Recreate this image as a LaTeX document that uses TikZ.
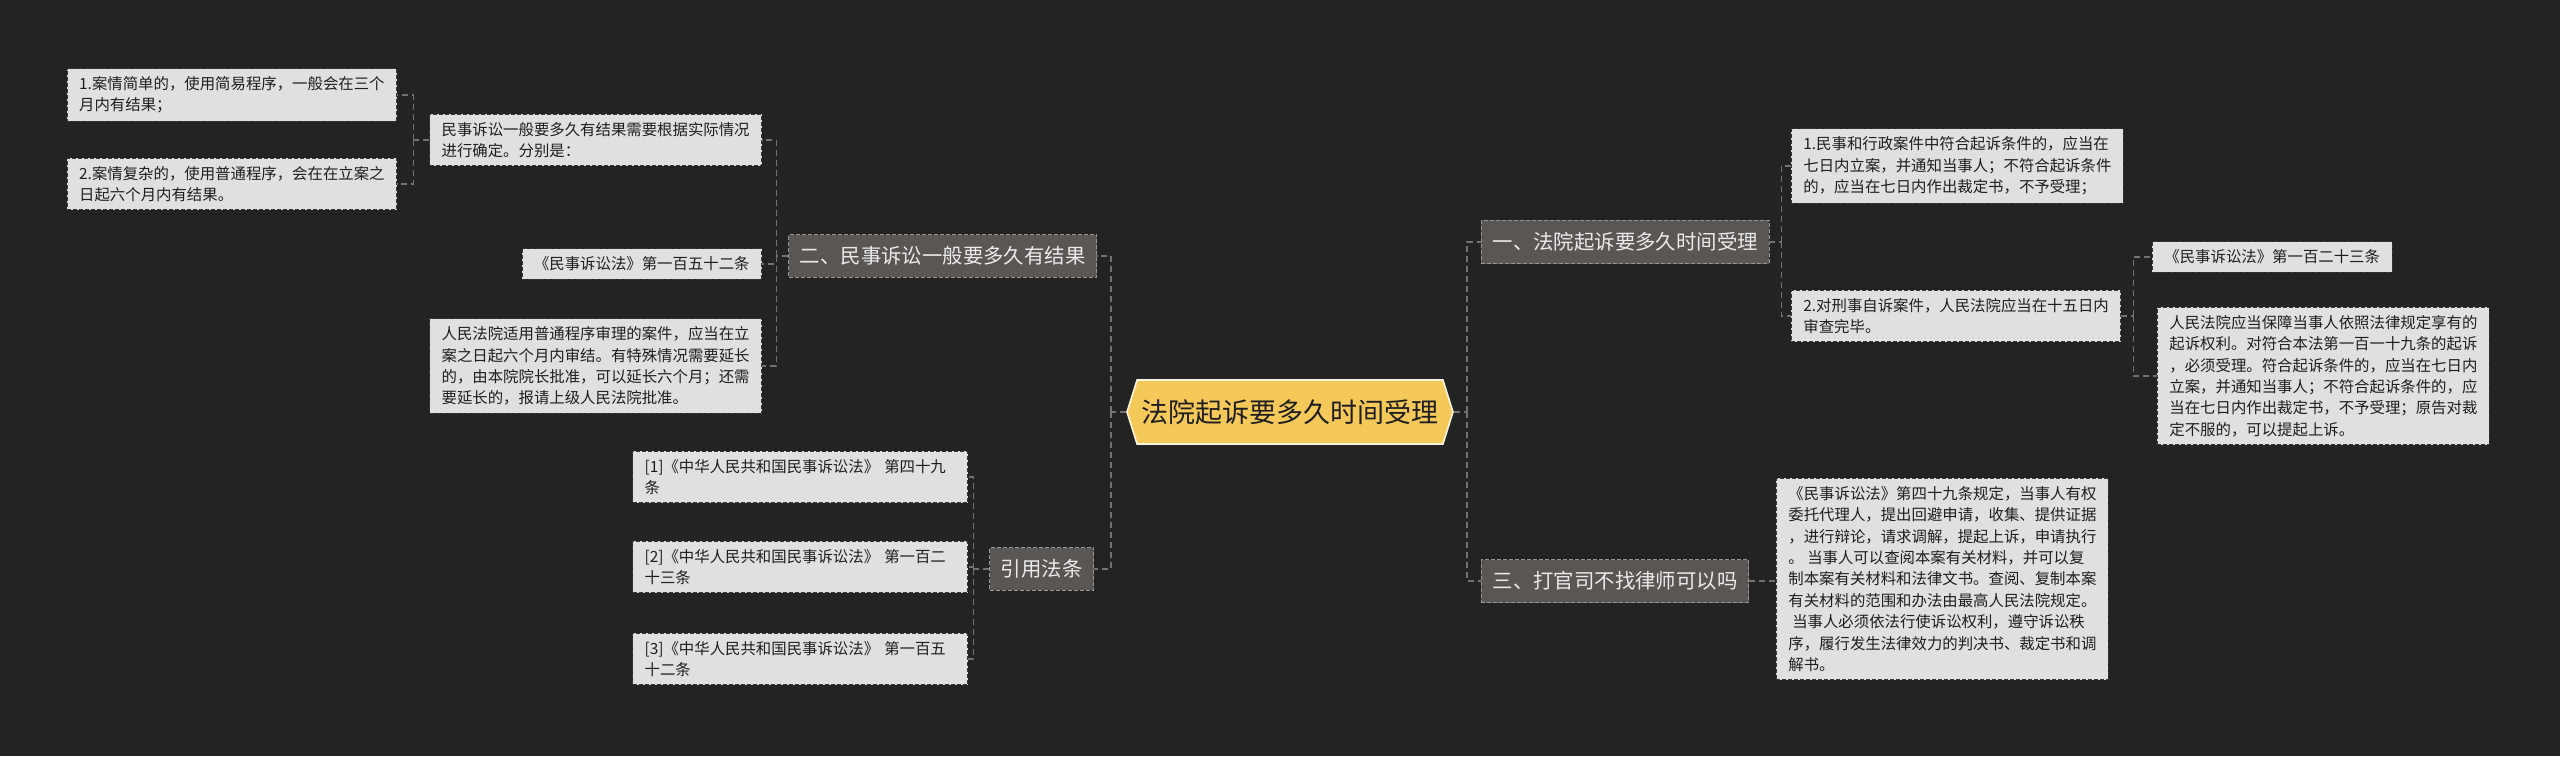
\documentclass[tikz,border=0pt]{standalone}
\usepackage{fontspec}
\setmainfont{Noto Sans CJK SC}
\usetikzlibrary{shapes.symbols,positioning}
\definecolor{bgdark}{RGB}{35,35,35}
\definecolor{leafgray}{RGB}{224,224,224}
\definecolor{leafedge}{RGB}{55,55,55}
\definecolor{branchgray}{RGB}{90,86,84}
\definecolor{branchedge}{RGB}{150,150,150}
\definecolor{rootyellow}{RGB}{245,200,90}
\definecolor{linkgray}{RGB}{115,115,115}
\definecolor{inkdark}{RGB}{30,30,30}

\begin{document}
\begin{tikzpicture}[x=0.5pt, y=-0.5pt,
  leaf/.style={draw=leafedge, dash pattern=on 2pt off 1pt, fill=leafgray,
               text=inkdark, align=left, inner xsep=6pt, inner ysep=4pt,
               font=\fontsize{7.7}{10.7}\selectfont},
  citeleaf/.style={leaf, text width=155.5pt},
  branch/.style={draw=branchedge, dash pattern=on 2pt off 1pt, fill=branchgray,
                 text=white!92!black, inner xsep=5.6pt, inner ysep=6pt,
                 font=\fontsize{10.2}{12}\selectfont},
  link/.style={draw=linkgray, line width=0.7pt, dash pattern=on 3pt off 2pt},
  ]

% background and picture size (pixels of the 2560x756 image)
\fill[bgdark] (0,0) rectangle (2560,756);
\useasboundingbox (0,0) rectangle (2560,756);

% ======================================================================
% Root
% ======================================================================
\node[shape=signal, signal to=east and west, signal pointer angle=145,
      fill=rootyellow, draw=white!80!rootyellow, line width=0.8pt,
      minimum width=163pt, minimum height=32pt, inner sep=0pt,
      text=inkdark, font=\fontsize{13.5}{15}\selectfont]
  (root) at (1290,412) {法院起诉要多久时间受理};

% ======================================================================
% Left side: branch two and cited articles
% ======================================================================
\node[branch, anchor=east] (branchTwo) at (1097,256) {二、民事诉讼一般要多久有结果};
\node[branch, anchor=east] (citeBranch) at (1094,569) {引用法条};

\node[leaf, anchor=east] (twoIntro) at (762,140)
  {民事诉讼一般要多久有结果需要根据实际情况\\进行确定。分别是：};
\node[leaf, anchor=east] (twoEasy) at (397,95)
  {1.案情简单的，使用简易程序，一般会在三个\\月内有结果；};
\node[leaf, anchor=east] (twoHard) at (397,184)
  {2.案情复杂的，使用普通程序，会在在立案之\\日起六个月内有结果。};
\node[leaf, anchor=east] (twoArticle) at (762,264)
  {《民事诉讼法》第一百五十二条};
\node[leaf, anchor=east] (twoRule) at (762,366)
  {人民法院适用普通程序审理的案件，应当在立\\案之日起六个月内审结。有特殊情况需要延长\\的，由本院院长批准，可以延长六个月；还需\\要延长的，报请上级人民法院批准。};

\node[citeleaf, anchor=east] (cite1) at (968,477)
  {[1]《中华人民共和国民事诉讼法》 第四十九\\条};
\node[citeleaf, anchor=east] (cite2) at (968,567)
  {[2]《中华人民共和国民事诉讼法》 第一百二\\十三条};
\node[citeleaf, anchor=east] (cite3) at (968,659)
  {[3]《中华人民共和国民事诉讼法》 第一百五\\十二条};

% ======================================================================
% Right side: branches one and three
% ======================================================================
\node[branch, anchor=west] (branchOne) at (1481,242) {一、法院起诉要多久时间受理};
\node[branch, anchor=west] (branchThree) at (1481,581) {三、打官司不找律师可以吗};

\node[leaf, anchor=west] (oneCivil) at (1791,166)
  {1.民事和行政案件中符合起诉条件的，应当在\\七日内立案，并通知当事人；不符合起诉条件\\的，应当在七日内作出裁定书，不予受理；};
\node[leaf, anchor=west] (oneCriminal) at (1791,316)
  {2.对刑事自诉案件，人民法院应当在十五日内\\审查完毕。};
\node[leaf, anchor=west] (oneArticle) at (2152,257)
  {《民事诉讼法》第一百二十三条};
\node[leaf, anchor=west] (oneRule) at (2157,376)
  {人民法院应当保障当事人依照法律规定享有的\\起诉权利。对符合本法第一百一十九条的起诉\\，必须受理。符合起诉条件的，应当在七日内\\立案，并通知当事人；不符合起诉条件的，应\\当在七日内作出裁定书，不予受理；原告对裁\\定不服的，可以提起上诉。};

\node[leaf, anchor=west] (threeRule) at (1776,579)
  {《民事诉讼法》第四十九条规定，当事人有权\\委托代理人，提出回避申请，收集、提供证据\\，进行辩论，请求调解，提起上诉，申请执行\\。 当事人可以查阅本案有关材料，并可以复\\制本案有关材料和法律文书。查阅、复制本案\\有关材料的范围和办法由最高人民法院规定。\\\hspace*{0.25em}当事人必须依法行使诉讼权利，遵守诉讼秩\\序，履行发生法律效力的判决书、裁定书和调\\解书。};

% ======================================================================
% Connectors
% ======================================================================
\draw[link] (root.west) -- ++(-15,0) coordinate (rootL);
\foreach \b in {branchTwo, citeBranch}
  \draw[link] (rootL) |- (\b.east);

\draw[link] (root.east) -- ++(13,0) coordinate (rootR);
\foreach \b in {branchOne, branchThree}
  \draw[link] (rootR) |- (\b.west);

\draw[link] (branchTwo.west) -- ++(-12,0) coordinate (twoL);
\foreach \c in {twoIntro, twoArticle, twoRule}
  \draw[link] (twoL) |- (\c.east);

\draw[link] (twoIntro.west) -- ++(-16,0) coordinate (introL);
\foreach \c in {twoEasy, twoHard}
  \draw[link] (introL) |- (\c.east);

\draw[link] (citeBranch.west) -- ++(-16,0) coordinate (citeL);
\foreach \c in {cite1, cite2, cite3}
  \draw[link] (citeL) |- (\c.east);

\draw[link] (branchOne.east) -- ++(12,0) coordinate (oneR);
\foreach \c in {oneCivil, oneCriminal}
  \draw[link] (oneR) |- (\c.west);

\draw[link] (oneCriminal.east) -- ++(12,0) coordinate (crimR);
\foreach \c in {oneArticle, oneRule}
  \draw[link] (crimR) |- (\c.west);

\draw[link] (branchThree.east) -- (branchThree.east -| threeRule.west);

\end{tikzpicture}
\end{document}
